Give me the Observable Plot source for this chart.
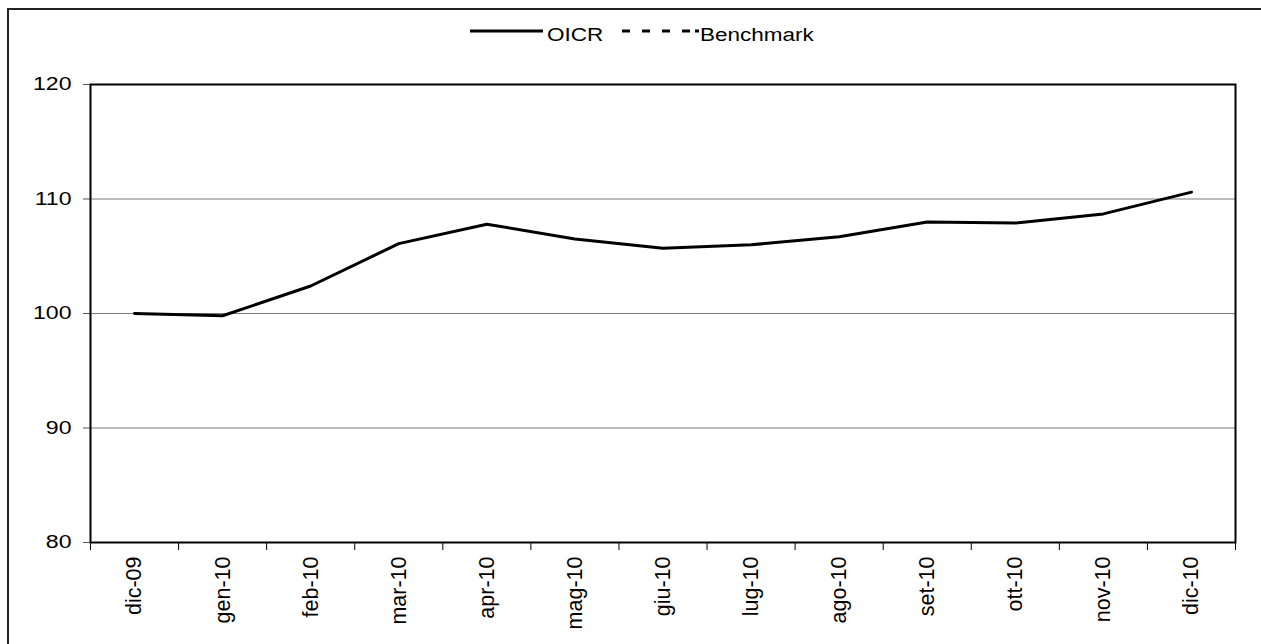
<!DOCTYPE html>
<html>
<head>
<meta charset="utf-8">
<script src="https://cdn.jsdelivr.net/npm/d3@7"></script>
<script src="https://cdn.jsdelivr.net/npm/@observablehq/plot@0.6"></script>
<style>
  html, body { margin: 0; padding: 0; background: #fff; overflow: hidden; }
  #wrap { position: relative; width: 1261px; height: 644px; overflow: hidden; font-family: "Liberation Sans", Arial, sans-serif; }
  #border { position: absolute; left: 7px; top: 8px; width: 1400px; height: 800px; border: 2px solid #222; box-sizing: border-box; }
  #chart { position: absolute; left: 0; top: 0; }
  #legend { position: absolute; left: 0; top: 0; }
</style>
</head>
<body>
<div id="wrap">
  <div id="border"></div>
  <div id="chart"></div>
  <svg id="legend" width="1261" height="60"></svg>
</div>
<script>
const categories = ["dic-09","gen-10","feb-10","mar-10","apr-10","mag-10","giu-10","lug-10","ago-10","set-10","ott-10","nov-10","dic-10"];
const oicr = [100.0, 99.8, 102.4, 106.1, 107.8, 106.5, 105.7, 106.0, 106.7, 108.0, 107.9, 108.7, 110.6];
const benchmark = []; // legend entry only; no visible values in the reference
const yTicks = [80, 90, 100, 110, 120];
const gridValues = [90, 100, 110];
const seriesNames = ["OICR", "Benchmark"];

const data = categories.map((c, i) => ({i, c, v: oicr[i]}));
const benchData = benchmark.map((v, i) => ({i, v}));

const H_SCALE = 1.25;

const chart = Plot.plot({
  width: 1261,
  height: 644,
  marginLeft: 90,
  marginRight: 26,
  marginTop: 84,
  marginBottom: 102,
  x: {type: "linear", domain: [-0.5, categories.length - 0.5]},
  y: {domain: [80, 120]},
  style: {fontFamily: "'Liberation Sans', Arial, sans-serif", background: "transparent", color: "black"},
  marks: [
    Plot.ruleY(gridValues, {stroke: "#7a7a7a", strokeWidth: 1}),
    Plot.axisY(yTicks, {tickSize: 7, tickPadding: 12, fontSize: 18.5, stroke: "#555", fill: "black", label: null}),
    Plot.axisX(d3.range(-0.5, categories.length), {tickSize: 8, tickFormat: () => "", stroke: "black", label: null}),
    Plot.axisX(d3.range(categories.length), {tickSize: 0, tickPadding: 14, tickRotate: -90, tickFormat: i => categories[i], fontSize: 21.5, fill: "black", label: null}),
    Plot.frame({stroke: "black", strokeWidth: 2}),
    Plot.line(benchData, {x: "i", y: "v", stroke: "black", strokeWidth: 3, strokeDasharray: "8,12"}),
    Plot.line(data, {x: "i", y: "v", stroke: "black", strokeWidth: 3})
  ]
});
document.getElementById("chart").appendChild(chart);

// stretch horizontal y tick labels like the reference
d3.select(chart).selectAll('g[aria-label="y-axis tick label"] text').each(function() {
  const t = this.getAttribute("transform") || "";
  this.setAttribute("transform", t + ` scale(${H_SCALE},1)`);
});

// legend
const lg = d3.select("#legend");
lg.append("line").attr("x1", 470).attr("x2", 543).attr("y1", 31).attr("y2", 31)
  .attr("stroke", "black").attr("stroke-width", 3);
lg.append("text").attr("transform", `translate(547,41) scale(${H_SCALE},1)`)
  .attr("font-family", "'Liberation Sans', Arial, sans-serif").attr("font-size", 18).text(seriesNames[0]);
lg.append("line").attr("x1", 622).attr("x2", 699).attr("y1", 31).attr("y2", 31)
  .attr("stroke", "black").attr("stroke-width", 3).attr("stroke-dasharray", "8,12");
lg.append("line").attr("x1", 695).attr("x2", 699).attr("y1", 31).attr("y2", 31)
  .attr("stroke", "black").attr("stroke-width", 3);
lg.append("text").attr("transform", `translate(700,41) scale(${H_SCALE},1)`)
  .attr("font-family", "'Liberation Sans', Arial, sans-serif").attr("font-size", 18).text(seriesNames[1]);
</script>
</body>
</html>
